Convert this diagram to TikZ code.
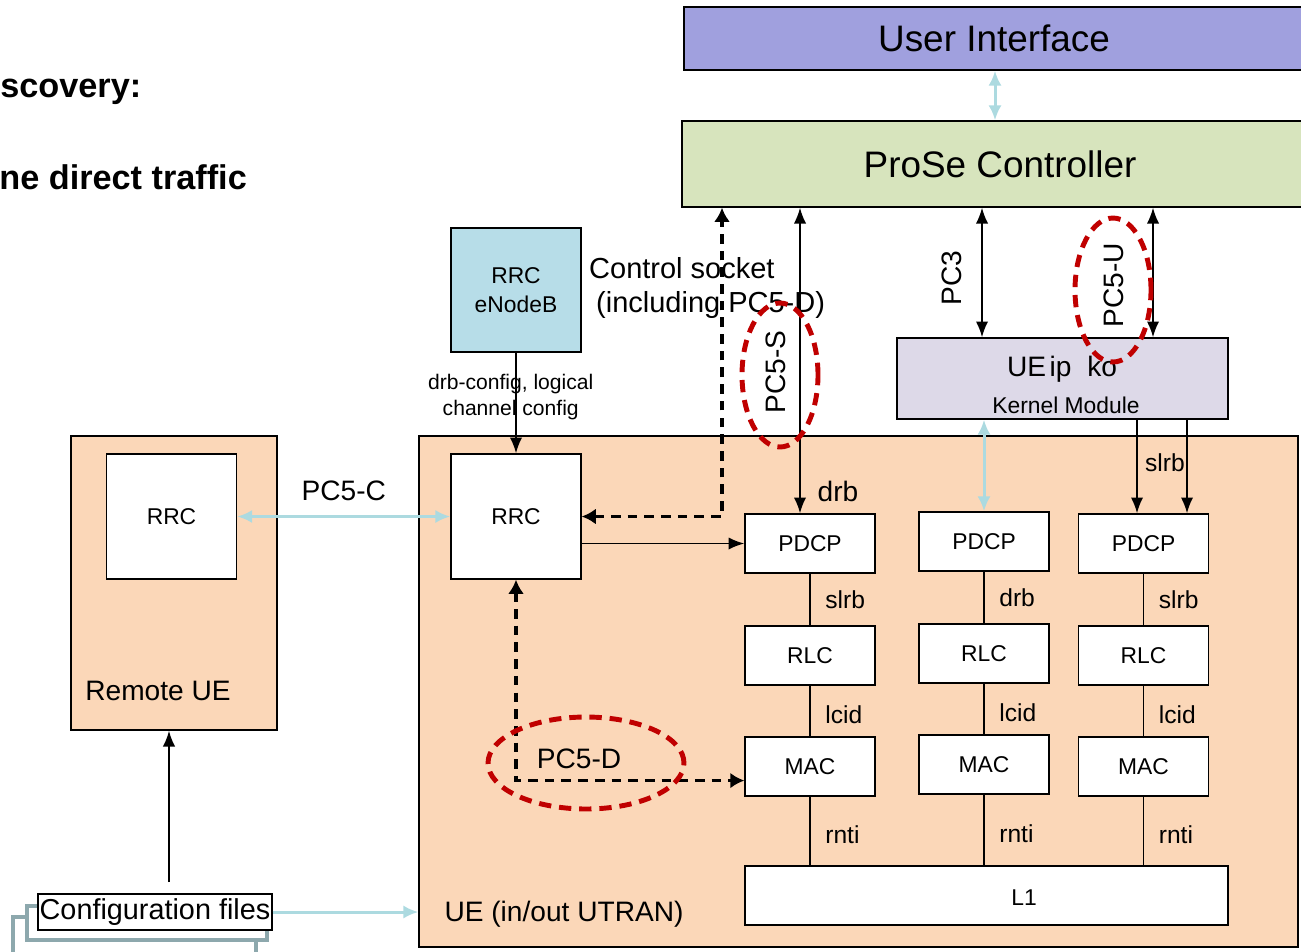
\documentclass[tikz,border=0pt]{standalone}
\usepackage{fontspec}
\setmainfont{Liberation Sans}
\usetikzlibrary{arrows.meta,positioning}

\definecolor{uifill}{RGB}{160,160,222}
\definecolor{prosefill}{RGB}{215,228,189}
\definecolor{enbfill}{RGB}{183,221,232}
\definecolor{kernfill}{RGB}{221,217,232}
\definecolor{uefill}{RGB}{251,215,184}
\definecolor{arrblue}{RGB}{172,218,224}
\definecolor{ringred}{RGB}{192,0,0}
\definecolor{stackgrey}{RGB}{141,168,173}

\tikzset{
  box/.style={draw,line width=0.8pt,inner sep=0pt},
  layer/.style={box,fill=white,minimum width=2.6cm,minimum height=1.18cm,font=\fontsize{13}{15}\selectfont},
  lbl/.style={font=\fontsize{14}{16}\selectfont},
  mid/.style={font=\fontsize{16}{19}\selectfont},
  hdr/.style={font=\fontsize{19.5}{22}\selectfont\bfseries,inner sep=0pt},
  blk/.style={line width=1pt,-{Latex[length=9pt,width=7pt]}},
  blkboth/.style={line width=1pt,{Latex[length=9pt,width=7pt]}-{Latex[length=9pt,width=7pt]}},
  cyanarr/.style={draw=arrblue,line width=1.7pt,-{Latex[length=8.5pt,width=7.5pt]}},
  cyanboth/.style={draw=arrblue,line width=1.7pt,{Latex[length=8.5pt,width=7.5pt]}-{Latex[length=8.5pt,width=7.5pt]}},
  dasharr/.style={line width=2pt,dash pattern=on 5.5pt off 4pt,{Latex[length=8pt,width=9pt]}-{Latex[length=8pt,width=9pt]}},
  ring/.style={draw=ringred,line width=2.8pt,dash pattern=on 7pt off 4.5pt},
  stack/.style={draw=stackgrey,line width=2.3pt,fill=white},
}

\begin{document}
\begin{tikzpicture}[x=0.02cm,y=-0.02cm]
\useasboundingbox (0,0) rectangle (1301,951);

\node[hdr,anchor=west] (disc) at (0,92) {scovery:};
\node[hdr,anchor=west] (direct) at (-1,177) {ne direct traffic};

% ProSe side
\node[box,fill=uifill,minimum width=12.4cm,minimum height=1.26cm,font=\fontsize{21}{25}\selectfont] (ui) at (994,38.5) {User Interface};
\node[box,fill=prosefill,minimum width=12.44cm,minimum height=1.72cm,font=\fontsize{21}{25}\selectfont] (prose) at (993,164) {\hspace{8pt}ProSe Controller};
\draw[cyanboth] (995,0 |- ui.south) -- (995,0 |- prose.north);

\node[box,fill=kernfill,minimum width=6.62cm,minimum height=1.62cm] (kern) at (1062.5,378.5) {};
\node[mid] (kip) at (1062,369) {UE\hspace{2pt}ip\hspace{9pt}ko};
\node[font=\fontsize{13}{15}\selectfont] (kmod) at (1066,405) {Kernel Module};

% UEs
\node[box,fill=uefill,minimum width=17.58cm,minimum height=10.22cm] (ue) at (858.5,691.5) {};
\node[mid] (uelbl) at (564,914) {UE (in/out UTRAN)};
\node[box,fill=uefill,minimum width=4.12cm,minimum height=5.88cm] (remote) at (174,583) {};
\node[mid] (remlbl) at (158,691) {Remote UE};

\node[layer,minimum height=2.5cm] (rrcr) at (171.5,516.5) {RRC};
\node[layer,minimum height=2.5cm] (rrc) at (516,516.5) {RRC};
\node[box,fill=enbfill,minimum width=2.6cm,minimum height=2.48cm,align=center,
      font=\fontsize{13}{16.5}\selectfont] (enb) at (516,290) {RRC\\eNodeB};

% protocol stacks
\node[layer,minimum width=9.66cm] (l1) at (986.5,895.5) {};
\node[font=\fontsize{13}{15}\selectfont] (l1lbl) at (1024,898) {L1};
\foreach \c/\x/\dy/\lab in {1/810/0/slrb, 2/984/-2/drb, 3/1143.5/0/slrb}{
  \node[layer] (pdcp\c) at (\x,543.5+\dy) {PDCP};
  \node[layer] (rlc\c) at (\x,655.5+\dy) {RLC};
  \node[layer] (mac\c) at (\x,766.5+\dy) {MAC};
  \draw[line width=0.8pt] (pdcp\c) -- node[lbl,right=5pt] {\lab} (rlc\c);
  \draw[line width=0.8pt] (rlc\c) -- node[lbl,right=5pt,yshift=-2pt] {lcid} (mac\c);
  \draw[line width=0.8pt] (mac\c) -- node[lbl,right=5pt,yshift=-2pt] {rnti} (mac\c.south |- l1.north);
}

% connectors
\draw[blk] (enb) -- node[align=center,font=\fontsize{12}{14.7}\selectfont,xshift=-3pt,yshift=3.5pt] {drb-config, logical\\channel config} (rrc);
\draw[cyanboth] (rrcr) -- node[mid,above=5pt] {PC5-C} (rrc);
\draw[blk] (rrc.east |- pdcp1.west) -- (pdcp1.west);

\coordinate (sock) at (722,0 |- prose.south);
\draw[dasharr] (rrc.east) -| (sock);
\node[mid,align=left,anchor=west,font=\fontsize{16.5}{19.5}\selectfont] (socklbl) at (583,288) {Control socket\\\hspace{4pt}(including PC5-D)};

\draw[blkboth] (800,0 |- prose.south) -- (800,0 |- pdcp1.north);
\node[mid] (drblbl) at (838,491) {drb};
\node[mid,rotate=90] (pc5s) at (776,372) {PC5-S};
\draw[ring] (780,375) ellipse [x radius=0.76cm, y radius=1.44cm];

\draw[blkboth] (982,0 |- prose.south) -- (982,0 |- kern.north);
\node[mid,rotate=90] (pc3) at (952,278) {PC3};
\draw[blkboth] (1153,0 |- prose.south) -- (1153,0 |- kern.north);
\node[mid,rotate=90] (pc5u) at (1114,285) {PC5-U};
\draw[ring] (1113,290) ellipse [x radius=0.76cm, y radius=1.44cm];

\draw[cyanboth] (pdcp2.north |- kern.south) -- (pdcp2.north);
\draw[blk] (1137,0 |- kern.south) -- (1137,0 |- pdcp3.north);
\draw[blk] (1187,0 |- kern.south) -- (1187,0 |- pdcp3.north);
\node[lbl] (slrblbl) at (1165,463) {slrb};

\draw[dasharr] (rrc.south) |- ([yshift=-8pt]mac1.west);
\node[mid] (pc5d) at (579,759) {PC5-D};
\draw[ring] (586,763) ellipse [x radius=1.96cm, y radius=0.92cm];

% configuration files
\draw[stack] (13,917) rectangle (256,958);
\draw[stack] (27,906) rectangle (267,940);
\node[box,fill=white,minimum width=4.68cm,minimum height=0.72cm,font=\fontsize{16.4}{19}\selectfont] (cfg) at (155,912) {Configuration files};
\coordinate (cfgtop) at (169,882);
\draw[blk] (cfgtop) -- (cfgtop |- remote.south);
\draw[cyanarr] (cfg.east) -- (cfg.east -| ue.west);
\end{tikzpicture}
\end{document}
